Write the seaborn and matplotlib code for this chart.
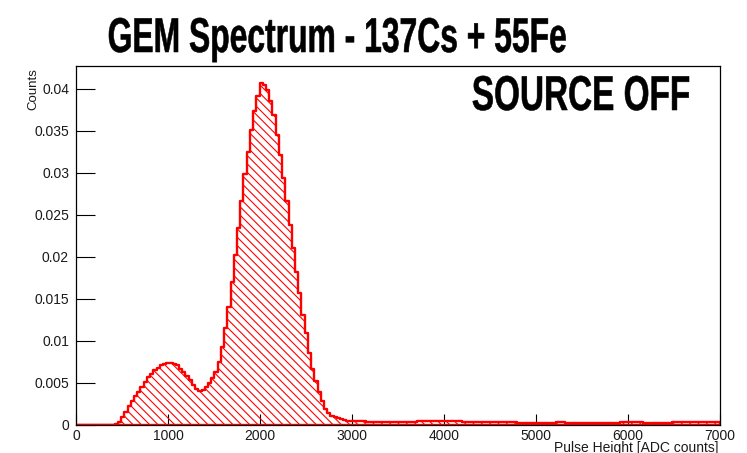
import numpy as np
import pandas as pd
import matplotlib
matplotlib.use("Agg")
import matplotlib.pyplot as plt
import seaborn as sns
from matplotlib.ticker import MultipleLocator, FormatStrFormatter
from matplotlib.patheffects import AbstractPathEffect
from matplotlib.transforms import Affine2D

# ---------------- data ----------------
bin_width = 35
x_min, x_max = 0, 7000
counts = [
    # 0 - 420
    0, 0, 0, 0, 0, 0, 0, 0, 0, 0, 0, 0,
    # 420 - 945
    0.0001, 0.0004, 0.0009, 0.0016, 0.0023, 0.0029, 0.0035, 0.0039, 0.0045,
    0.0051, 0.0057, 0.0061, 0.0065, 0.0068, 0.0071,
    # 945 - 1400
    0.0073, 0.0074, 0.0074, 0.0073, 0.0071, 0.0067, 0.0063, 0.0058, 0.0053,
    0.0047, 0.0043, 0.0041, 0.0042,
    # 1400 - 1995
    0.0045, 0.0050, 0.0056, 0.0063, 0.0075, 0.0093, 0.0115, 0.0140, 0.0170,
    0.0202, 0.0234, 0.0266, 0.0298, 0.0325, 0.0351, 0.0373, 0.0391,
    # 1995 - 2590
    0.0407, 0.0404, 0.0399, 0.0385, 0.0369, 0.0345, 0.0321, 0.0294, 0.0266,
    0.0238, 0.0211, 0.0182, 0.0157, 0.0131, 0.0110, 0.0086, 0.0067,
    # 2590 - 2975
    0.0052, 0.0039, 0.0028, 0.0019, 0.0014, 0.0011, 0.0009, 0.0008, 0.0007,
    0.0006, 0.0005,
    # 2975 - 3500
    0.0005, 0.0005, 0.00045, 0.00045, 0.00045, 0.0004, 0.0004, 0.0004, 0.0004,
    0.0004, 0.0004, 0.0004, 0.0004, 0.00038, 0.00038,
    # 3500 - 4025
    0.00038, 0.00038, 0.00038, 0.0004, 0.0004, 0.0004, 0.00042, 0.00042,
    0.00042, 0.00045, 0.00045, 0.00045, 0.00048, 0.00048, 0.00048,
    # 4025 - 4550
    0.00048, 0.00046, 0.00045, 0.00044, 0.00042, 0.0004, 0.00038, 0.00036,
    0.00035, 0.00035, 0.00035, 0.00035, 0.00035, 0.00034, 0.00034,
    # 4550 - 5075
    0.00034, 0.00033, 0.00032, 0.00032, 0.00033, 0.00032, 0.0003, 0.00028,
    0.00025, 0.00022, 0.0002, 0.0002, 0.0002, 0.0002, 0.00021,
    # 5075 - 5600
    0.00022, 0.00024, 0.00026, 0.00028, 0.0003, 0.0003, 0.0003, 0.00028,
    0.00026, 0.00025, 0.00025, 0.00025, 0.00025, 0.00026, 0.00026,
    # 5600 - 6125
    0.00026, 0.00026, 0.00027, 0.00027, 0.00028, 0.00028, 0.00028, 0.00028,
    0.00029, 0.0003, 0.0003, 0.0003, 0.0003, 0.0003, 0.0003,
    # 6125 - 6650
    0.0003, 0.00029, 0.00028, 0.00028, 0.00027, 0.00027, 0.00026, 0.00026,
    0.00027, 0.00028, 0.0003, 0.0003, 0.00032, 0.00033, 0.00033,
    # 6650 - 7000
    0.00032, 0.00031, 0.0003, 0.0003, 0.0003, 0.0003, 0.00031, 0.00032,
    0.00032, 0.0003,
]
title_text = "GEM Spectrum - 137Cs + 55Fe"
note_text = "SOURCE OFF"
x_label = "Pulse Height [ADC counts]"
y_label = "Counts"

n_bins = len(counts)
centers = x_min + bin_width * (np.arange(n_bins) + 0.5)
df = pd.DataFrame({"adc": centers, "w": counts})


class Stretch(AbstractPathEffect):
    """Stretch a text vertically about its baseline (display px)."""

    def __init__(self, sy, base_y, stroke=0.0):
        super().__init__()
        self.sy, self.base_y, self.stroke = sy, base_y, stroke

    def draw_path(self, renderer, gc, tpath, affine, rgbFace=None):
        aff = affine + Affine2D().translate(0, -self.base_y).scale(1, self.sy).translate(0, self.base_y)
        if self.stroke > 0:
            gc0 = renderer.new_gc()
            gc0.copy_properties(gc)
            gc0.set_linewidth(self.stroke)
            gc0.set_foreground(rgbFace)
            renderer.draw_path(gc0, tpath, aff, rgbFace)
            gc0.restore()
        else:
            renderer.draw_path(gc, tpath, aff, rgbFace)


# ---------------- style ----------------
sns.set_style("white")
plt.rcParams["font.family"] = ["Liberation Sans", "DejaVu Sans"]
plt.rcParams["hatch.color"] = "red"
plt.rcParams["hatch.linewidth"] = 0.8

W, H = 747, 453
fig = plt.figure(figsize=(W / 100, H / 100), dpi=100)
ax = fig.add_axes([76 / W, 1 - 425 / H, (720 - 76) / W, (425 - 66) / H])

sns.histplot(data=df, x="adc", weights="w", binwidth=bin_width,
             binrange=(x_min, x_max), element="step",
             fill=True, color="red", facecolor="none", edgecolor="red",
             hatch="\\\\\\\\", linewidth=1.7, ax=ax)

ax.set_xlim(x_min, x_max)
ax.set_ylim(0, 0.0427)
ax.set_xlabel("")
ax.set_ylabel("")

ax.xaxis.set_major_locator(MultipleLocator(1000))
ax.xaxis.set_minor_locator(MultipleLocator(200))
ax.yaxis.set_major_locator(MultipleLocator(0.005))
ax.yaxis.set_minor_locator(MultipleLocator(0.001))
ax.yaxis.set_major_formatter(FormatStrFormatter("%g"))
ax.xaxis.set_major_formatter(FormatStrFormatter("%g"))

ax.tick_params(axis="y", which="major", direction="in", length=13.7, width=0.8,
               labelsize=10, pad=5, colors="black", labelcolor="#1a1a1a")
ax.tick_params(axis="y", which="minor", direction="in", length=6.8, width=0.8)
ax.tick_params(axis="x", which="major", direction="in", length=7.8, width=0.8,
               labelsize=10, pad=3, colors="black", labelcolor="#1a1a1a")
ax.tick_params(axis="x", which="minor", direction="in", length=3.9, width=0.8)
ax.tick_params(left=True, bottom=True, right=False, top=False)
for s in ax.spines.values():
    s.set_color("black")
    s.set_linewidth(0.9)

renderer = fig.canvas.get_renderer()


def condensed_text(cx_px, baseline_px, text, cap_px, target_w):
    ref_size = 30.0
    t = fig.text(cx_px / W, 1 - baseline_px / H, text, ha="center", va="baseline",
                 fontsize=ref_size, fontweight="bold", color="black",
                 family=["Liberation Sans", "DejaVu Sans"])
    w = t.get_window_extent(renderer).width
    size = ref_size * target_w / w
    t.set_fontsize(size)
    cap_nominal = 0.716 * size * 100 / 72
    t.set_path_effects([Stretch(cap_px / cap_nominal, H - baseline_px, stroke=0.4)])
    return t


condensed_text(337.5, 52, title_text, 35, 459)
condensed_text(581, 110, note_text, 35, 218)

fig.text(33 / W, 1 - 68 / H, y_label, rotation=90, ha="center", va="top",
         fontsize=9.5, color="#1a1a1a")
fig.text(718 / W, 1 - 452 / H, x_label, ha="right", va="baseline",
         fontsize=10, color="#1a1a1a")

fig.savefig("out.png", dpi=100)
